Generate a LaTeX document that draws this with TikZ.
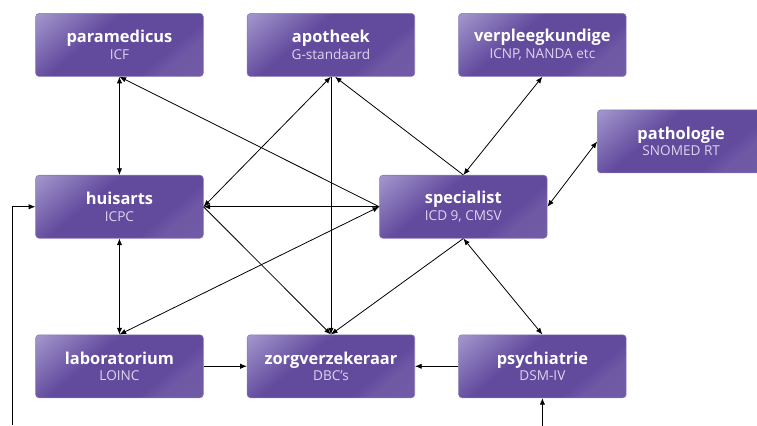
\documentclass[tikz,border=0pt]{standalone}
\usepackage{fontspec}
\setsansfont{Open Sans}
\usetikzlibrary{arrows.meta,positioning}
\definecolor{unitcol}{HTML}{624A9D}
\definecolor{unitlight}{HTML}{ABA0D3}
\definecolor{codecol}{HTML}{DDD5EE}
\pgfdeclareverticalshading{unitshade}{100bp}{color(0bp)=(unitcol!88!white); color(28bp)=(unitcol!92!white);
  color(34bp)=(unitcol); color(60bp)=(unitcol); color(88bp)=(unitlight); color(100bp)=(unitlight)}
\newcommand{\unittxt}[2]{{\fontsize{12.3}{14}\selectfont\bfseries #1}\\[0.5pt]{\fontsize{10.2}{11}\selectfont\color{codecol}#2}}

\begin{document}
\begin{tikzpicture}[
  unit/.style={draw=unitcol!75!white, rounded corners=2.5pt,
               shading=unitshade, shading angle=40, font=\sffamily, text=white, align=center,
               minimum width=125.7pt, minimum height=47.25pt, inner sep=0pt},
  one/.style={-{Latex[length=5pt,width=4pt]}, line width=0.6pt},
  both/.style={{Latex[length=5pt,width=4pt]}-{Latex[length=5pt,width=4pt]}, line width=0.6pt}]
  \useasboundingbox (0,0) rectangle (567.75pt,-318.75pt);
  \node[unit] (para) at (89.6pt,-33.7pt) {\unittxt{paramedicus}{ICF}};
  \node[unit, right=32.5pt of para] (apo) {\unittxt{apotheek}{G-standaard}};
  \node[unit, right=32.5pt of apo] (verp) {\unittxt{verpleegkundige}{ICNP, NANDA etc}};
  \node[unit, below=73.7pt of para] (huis) {\unittxt{huisarts}{ICPC}};
  \node[unit, right=131.8pt of huis] (spec) {\unittxt{specialist}{ICD 9, CMSV}};
  \node[unit, above right=1.3pt and 37.3pt of spec] (patho) {\unittxt{pathologie}{SNOMED RT}};
  \node[unit, below=72pt of huis] (lab) {\unittxt{laboratorium}{LOINC}};
  \node[unit, right=32.5pt of lab] (zorg) {\unittxt{zorgverzekeraar}{DBC's}};
  \node[unit, right=32.5pt of zorg] (psych) {\unittxt{psychiatrie}{DSM-IV}};
  \coordinate[below=21.75pt of psych] (pin);
  \coordinate (hin) at (9pt,-318.75pt);
  % links
  \draw[both] (para) -- (huis);
  \draw[both] (huis) -- (lab);
  \draw[one] (spec.west) -- (para.south);
  \draw[one] (spec.north) -- ([xshift=3pt]apo.south);
  \draw[both] (verp.south) -- (spec.north);
  \draw[both] (patho.west) -- (spec.east);
  \draw[both] (apo.south) -- (huis.east);
  \draw[one] (spec.west) -- (huis.east);
  \draw[both] (spec.west) -- (lab.north);
  \draw[one] (huis.east) -- (zorg.north);
  \draw[one] (apo) -- (zorg);
  \draw[one] (spec.south) -- (zorg.north);
  \draw[both] (spec.south) -- (psych.north);
  \draw[one] (lab) -- (zorg);
  \draw[one] (psych) -- (zorg);
  \draw[one] (pin) -- (psych);
  \draw[one] (hin) |- (huis.west);
\end{tikzpicture}
\end{document}
